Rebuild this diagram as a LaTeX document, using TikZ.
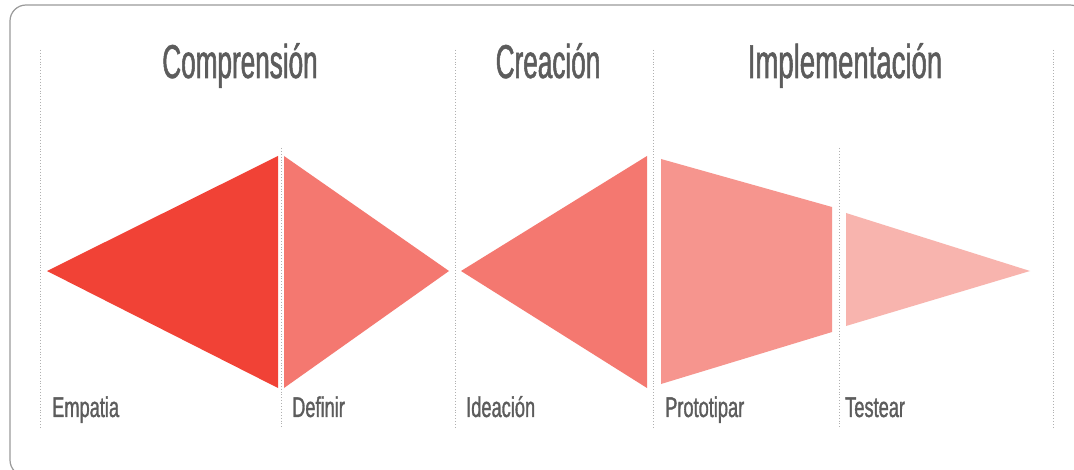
\documentclass[tikz,border=0pt]{standalone}
\usepackage{fontspec}
\newfontfamily\condfont[FakeStretch=0.55,FakeBold=1.1]{Liberation Sans}
\newfontfamily\condwidefont[FakeStretch=0.58,FakeBold=1.1]{Liberation Sans}
\newfontfamily\labfont[FakeStretch=0.64,FakeBold=1.1]{Liberation Sans}
\definecolor{txtgray}{HTML}{5C5C5C}
\definecolor{bordergray}{HTML}{9A9A9A}
\definecolor{dotgray}{HTML}{B0B0B0}
\definecolor{redA}{HTML}{F14236}
\definecolor{redB}{HTML}{F47870}
\definecolor{redC}{HTML}{F6958E}
\definecolor{redD}{HTML}{F8B4AE}
\tikzset{
  title/.style={font=\condfont\fontsize{47.5}{47.5}\selectfont, text=txtgray, anchor=base, inner sep=0pt},
  titlewide/.style={title, font=\condwidefont\fontsize{47.5}{47.5}\selectfont},
  lab/.style={font=\labfont\fontsize{28.5}{28.5}\selectfont, text=txtgray, anchor=base west, inner sep=0pt},
  sep/.style={draw=dotgray, line width=0.9pt, dotted},
}
\begin{document}
\begin{tikzpicture}[x=1pt,y=-1pt]
\useasboundingbox (0,0) rectangle (1074,470);
\fill[white] (0,0) rectangle (1074,470);
\begin{scope}
\clip (0,0) rectangle (1074,470);
\draw[bordergray, line width=1.2pt, rounded corners=16pt] (10,5) rectangle (1086,476);
\end{scope}
% separators
\draw[sep] (40,50) -- (40,428);
\draw[sep] (455,50) -- (455,428);
\draw[sep] (653,50) -- (653,428);
\draw[sep] (1053,50) -- (1053,428);
\draw[sep] (281,148) -- (281,428);
\draw[sep] (839,148) -- (839,428);
% shapes
\fill[redA] (47,271) -- (278,156) -- (278,388) -- cycle;
\fill[redB] (284,156) -- (449,271) -- (284,388) -- cycle;
\fill[redB] (461,271) -- (647,156) -- (647,388) -- cycle;
\fill[redC] (661,159) -- (832,207) -- (832,332) -- (661,384) -- cycle;
\fill[redD] (846,213) -- (1030,271) -- (846,326) -- cycle;
% titles
\node[title] (t1) at (240,78) {Comprensión};
\node[title] (t2) at (548,78) {Creación};
\node[titlewide] (t3) at (845,78) {Implementación};
% labels
\node[lab] (l1) at (52,417) {Empatia};
\node[lab] (l2) at (292,417) {Definir};
\node[lab] (l3) at (466,417) {Ideación};
\node[lab] (l4) at (665,417) {Prototipar};
\node[lab] (l5) at (845,417) {Testear};
\end{tikzpicture}
\end{document}
